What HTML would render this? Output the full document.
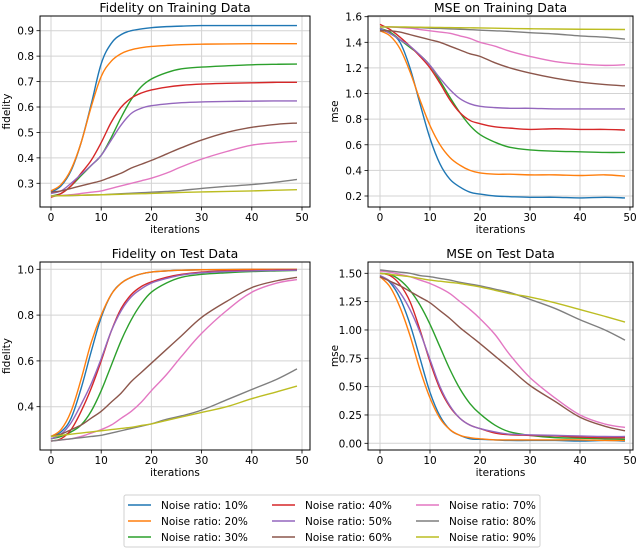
<!DOCTYPE html>
<html><head><meta charset="utf-8"><style>
body{margin:0;background:#fff;}
svg{display:block;font-family:"DejaVu Sans","Liberation Sans",sans-serif;}
</style></head><body>
<svg id="fig" width="640" height="549" viewBox="0 0 640 549" xmlns="http://www.w3.org/2000/svg"></svg>
<script>
const ITERS=[0,2,4,6,8,10,12,14,16,18,20,23,26,30,35,40,45,49];
const SERIES_NAMES=["Noise ratio: 10%","Noise ratio: 20%","Noise ratio: 30%","Noise ratio: 40%","Noise ratio: 50%","Noise ratio: 60%","Noise ratio: 70%","Noise ratio: 80%","Noise ratio: 90%"];
const COLORS=["#1f77b4","#ff7f0e","#2ca02c","#d62728","#9467bd","#8c564b","#e377c2","#7f7f7f","#bcbd22"];
const X_TICKS=[0,10,20,30,40,50];
const FID_TRAIN_TICKS=[0.3,0.4,0.5,0.6,0.7,0.8,0.9];
const MSE_TRAIN_TICKS=[0.2,0.4,0.6,0.8,1.0,1.2,1.4,1.6];
const FID_TEST_TICKS=[0.4,0.6,0.8,1.0];
const MSE_TEST_TICKS=[0,0.25,0.5,0.75,1.0,1.25,1.5];
const fidTrain=[
[0.265,0.29,0.35,0.46,0.61,0.77,0.85,0.885,0.90,0.907,0.912,0.916,0.918,0.92,0.92,0.92,0.92,0.92],
[0.27,0.295,0.355,0.46,0.60,0.72,0.78,0.81,0.825,0.833,0.838,0.842,0.845,0.847,0.848,0.849,0.849,0.849],
[0.25,0.26,0.29,0.33,0.37,0.41,0.48,0.56,0.63,0.68,0.71,0.735,0.75,0.757,0.762,0.766,0.768,0.769],
[0.245,0.26,0.29,0.34,0.39,0.46,0.54,0.60,0.635,0.655,0.667,0.678,0.685,0.69,0.693,0.695,0.697,0.697],
[0.26,0.27,0.30,0.335,0.37,0.41,0.47,0.53,0.575,0.595,0.605,0.612,0.617,0.62,0.622,0.623,0.624,0.624],
[0.265,0.27,0.28,0.29,0.30,0.31,0.325,0.34,0.36,0.375,0.39,0.415,0.44,0.47,0.50,0.52,0.532,0.537],
[0.25,0.252,0.255,0.26,0.265,0.27,0.28,0.29,0.30,0.31,0.32,0.34,0.365,0.395,0.425,0.45,0.46,0.465],
[0.25,0.251,0.252,0.253,0.254,0.255,0.257,0.259,0.261,0.263,0.265,0.268,0.272,0.28,0.288,0.295,0.305,0.315],
[0.25,0.251,0.252,0.253,0.254,0.255,0.256,0.257,0.258,0.259,0.26,0.262,0.264,0.266,0.268,0.27,0.273,0.275]];
const mseTrain=[
[1.50,1.47,1.40,1.20,0.92,0.65,0.45,0.33,0.27,0.23,0.215,0.20,0.195,0.19,0.19,0.185,0.19,0.185],
[1.49,1.45,1.35,1.17,0.95,0.75,0.60,0.50,0.44,0.40,0.38,0.37,0.37,0.365,0.365,0.36,0.365,0.355],
[1.51,1.48,1.42,1.36,1.30,1.22,1.10,0.97,0.85,0.75,0.68,0.62,0.58,0.56,0.55,0.545,0.54,0.54],
[1.54,1.50,1.44,1.37,1.29,1.20,1.08,0.95,0.85,0.79,0.765,0.74,0.73,0.72,0.725,0.72,0.72,0.715],
[1.51,1.47,1.42,1.37,1.30,1.22,1.12,1.03,0.96,0.92,0.90,0.89,0.885,0.885,0.88,0.88,0.88,0.88],
[1.49,1.49,1.48,1.46,1.44,1.42,1.40,1.37,1.34,1.31,1.29,1.24,1.20,1.16,1.12,1.09,1.07,1.06],
[1.52,1.52,1.515,1.51,1.50,1.49,1.48,1.47,1.45,1.43,1.40,1.37,1.33,1.29,1.25,1.23,1.22,1.225],
[1.52,1.52,1.518,1.516,1.514,1.51,1.508,1.505,1.502,1.499,1.495,1.49,1.485,1.475,1.465,1.45,1.44,1.425],
[1.52,1.52,1.52,1.519,1.518,1.517,1.516,1.515,1.514,1.513,1.512,1.51,1.508,1.506,1.504,1.502,1.501,1.50]];
const fidTest=[
[0.27,0.29,0.35,0.48,0.64,0.79,0.89,0.94,0.965,0.98,0.988,0.993,0.996,0.998,0.999,1.0,1.0,1.0],
[0.27,0.30,0.38,0.52,0.68,0.80,0.89,0.94,0.965,0.98,0.988,0.993,0.996,0.998,0.999,1.0,1.0,1.0],
[0.26,0.27,0.29,0.32,0.38,0.47,0.58,0.69,0.78,0.85,0.90,0.94,0.965,0.978,0.985,0.99,0.993,0.995],
[0.25,0.26,0.30,0.38,0.48,0.60,0.73,0.83,0.89,0.925,0.945,0.965,0.978,0.988,0.993,0.995,0.997,0.998],
[0.26,0.28,0.33,0.41,0.50,0.61,0.73,0.82,0.88,0.915,0.94,0.96,0.975,0.985,0.99,0.993,0.995,0.996],
[0.27,0.28,0.30,0.32,0.35,0.38,0.42,0.46,0.51,0.55,0.59,0.65,0.71,0.79,0.86,0.92,0.95,0.965],
[0.25,0.255,0.26,0.27,0.285,0.30,0.32,0.35,0.38,0.42,0.47,0.54,0.62,0.72,0.82,0.90,0.94,0.955],
[0.25,0.255,0.26,0.265,0.27,0.275,0.285,0.295,0.305,0.315,0.325,0.345,0.36,0.385,0.43,0.475,0.52,0.565],
[0.27,0.275,0.28,0.285,0.29,0.295,0.30,0.305,0.31,0.318,0.325,0.34,0.355,0.375,0.40,0.435,0.465,0.49]];
const mseTest=[
[1.48,1.42,1.28,1.05,0.75,0.45,0.24,0.12,0.07,0.04,0.035,0.03,0.025,0.025,0.025,0.02,0.025,0.02],
[1.47,1.38,1.20,0.95,0.65,0.40,0.22,0.12,0.07,0.05,0.04,0.03,0.03,0.03,0.03,0.03,0.025,0.025],
[1.50,1.49,1.44,1.35,1.22,1.05,0.85,0.65,0.48,0.35,0.26,0.16,0.10,0.07,0.05,0.045,0.04,0.035],
[1.50,1.48,1.40,1.25,1.00,0.72,0.48,0.32,0.22,0.16,0.13,0.09,0.075,0.07,0.065,0.055,0.05,0.05],
[1.48,1.43,1.33,1.18,0.98,0.74,0.50,0.33,0.22,0.16,0.13,0.10,0.08,0.075,0.07,0.065,0.06,0.06],
[1.47,1.43,1.39,1.34,1.29,1.24,1.17,1.10,1.02,0.95,0.88,0.77,0.66,0.51,0.37,0.23,0.15,0.11],
[1.52,1.51,1.49,1.47,1.44,1.41,1.37,1.32,1.25,1.18,1.10,0.96,0.78,0.58,0.40,0.25,0.17,0.14],
[1.53,1.52,1.51,1.50,1.48,1.47,1.455,1.44,1.42,1.405,1.39,1.36,1.33,1.27,1.19,1.09,1.00,0.91],
[1.50,1.49,1.48,1.47,1.455,1.44,1.43,1.42,1.41,1.395,1.38,1.35,1.32,1.29,1.24,1.18,1.12,1.07]];

const NS="http://www.w3.org/2000/svg";
const fig=document.getElementById('fig');
function mk(tag,attrs,parent){const e=document.createElementNS(NS,tag);for(const k in attrs)e.setAttribute(k,attrs[k]);(parent||fig).appendChild(e);return e;}
function smooth(pts){
  let d='M'+pts[0][0].toFixed(2)+','+pts[0][1].toFixed(2);
  for(let i=0;i<pts.length-1;i++){
    const p0=pts[Math.max(0,i-1)],p1=pts[i],p2=pts[i+1],p3=pts[Math.min(pts.length-1,i+2)];
    const t=0.18;
    const c1=[p1[0]+(p2[0]-p0[0])*t,p1[1]+(p2[1]-p0[1])*t];
    const c2=[p2[0]-(p3[0]-p1[0])*t,p2[1]-(p3[1]-p1[1])*t];
    d+=` C${c1[0].toFixed(2)},${c1[1].toFixed(2)} ${c2[0].toFixed(2)},${c2[1].toFixed(2)} ${p2[0].toFixed(2)},${p2[1].toFixed(2)}`;
  }
  return d;
}

const panels=[
 {key:'fidelity-train',title:'Fidelity on Training Data',ylabel:'fidelity',data:fidTrain,ticks:FID_TRAIN_TICKS,dec:1,
  box:[40,16,310,207],x0:51,x50:302,ya:0.9,pa:30.7,yb:0.3,pb:183.3},
 {key:'mse-train',title:'MSE on Training Data',ylabel:'mse',data:mseTrain,ticks:MSE_TRAIN_TICKS,dec:1,
  box:[368,16,633,207],x0:380,x50:630,ya:1.6,pa:16.7,yb:0.2,pb:196},
 {key:'fidelity-test',title:'Fidelity on Test Data',ylabel:'fidelity',data:fidTest,ticks:FID_TEST_TICKS,dec:1,
  box:[40,262,310,450],x0:51,x50:302,ya:1.0,pa:269.3,yb:0.4,pb:406.7},
 {key:'mse-test',title:'MSE on Test Data',ylabel:'mse',data:mseTest,ticks:MSE_TEST_TICKS,dec:2,
  box:[368,262,633,450],x0:380,x50:630,ya:1.5,pa:273.3,yb:0,pb:443.3}];

panels.forEach(P=>{
  const g=mk('g',{});
  
  
  const [L,T,R,B]=P.box;
  const xs=v=>P.x0+(P.x50-P.x0)*v/50;
  const ys=v=>P.pb+(v-P.yb)*(P.pa-P.pb)/(P.ya-P.yb);
  X_TICKS.forEach(t=>{
    const x=xs(t);
    const gl=mk('line',{x1:x,x2:x,y1:T,y2:B,stroke:'#d3d3d3','stroke-width':1},g);
    
    
    mk('line',{x1:x,x2:x,y1:B,y2:B+3.5,stroke:'#000','stroke-width':0.8},g);
    const tx=mk('text',{x:x,y:B+14,'text-anchor':'middle','font-size':10.5,fill:'#000'},g);
    tx.textContent=t;
    
    
  });
  P.ticks.forEach(t=>{
    const y=ys(t);
    const gl=mk('line',{x1:L,x2:R,y1:y,y2:y,stroke:'#d3d3d3','stroke-width':1},g);
    
    
    mk('line',{x1:L-3.5,x2:L,y1:y,y2:y,stroke:'#000','stroke-width':0.8},g);
    const tx=mk('text',{x:L-6,y:y+4,'text-anchor':'end','font-size':10.5,fill:'#000'},g);
    tx.textContent=t.toFixed(P.dec);
    
    
  });
  P.data.forEach((vals,i)=>{
    const pts=vals.map((v,j)=>[xs(ITERS[j]),ys(v)]);
    const p=mk('path',{d:smooth(pts),fill:'none',stroke:COLORS[i],'stroke-width':1.4,'stroke-linejoin':'round'},g);
    
    
  });
  const box=mk('rect',{x:L,y:T,width:R-L,height:B-T,fill:'none',stroke:'#000','stroke-width':1},g);
  
  
  const ti=mk('text',{x:(L+R)/2,y:T-4,'text-anchor':'middle','font-size':12.5,fill:'#000'},g);
  ti.textContent=P.title;
  
  
  const xl=mk('text',{x:(L+R)/2,y:B+26,'text-anchor':'middle','font-size':10.5,fill:'#000'},g);
  xl.textContent='iterations';
  
  
  const yx=L-30, yy=(T+B)/2;
  const yl=mk('text',{x:yx,y:yy,'text-anchor':'middle','font-size':10.5,fill:'#000',transform:`rotate(-90 ${yx} ${yy})`},g);
  yl.textContent=P.ylabel;
  
  
});

const lg=mk('g',{});


mk('rect',{x:124,y:495,width:416,height:52,rx:2,fill:'#fff',stroke:'#d0d0d0','stroke-width':1},lg);
SERIES_NAMES.forEach((n,i)=>{
  const col=Math.floor(i/3),row=i%3;
  const lx=128+col*144, ly=505+row*16;
  const e=mk('g',{},lg);
  
  
  mk('line',{x1:lx,x2:lx+23,y1:ly,y2:ly,stroke:COLORS[i],'stroke-width':1.5},e);
  const t=mk('text',{x:lx+33,y:ly+4,'font-size':10.5,fill:'#000'},e);
  t.textContent=n;
});
</script>
</body></html>
